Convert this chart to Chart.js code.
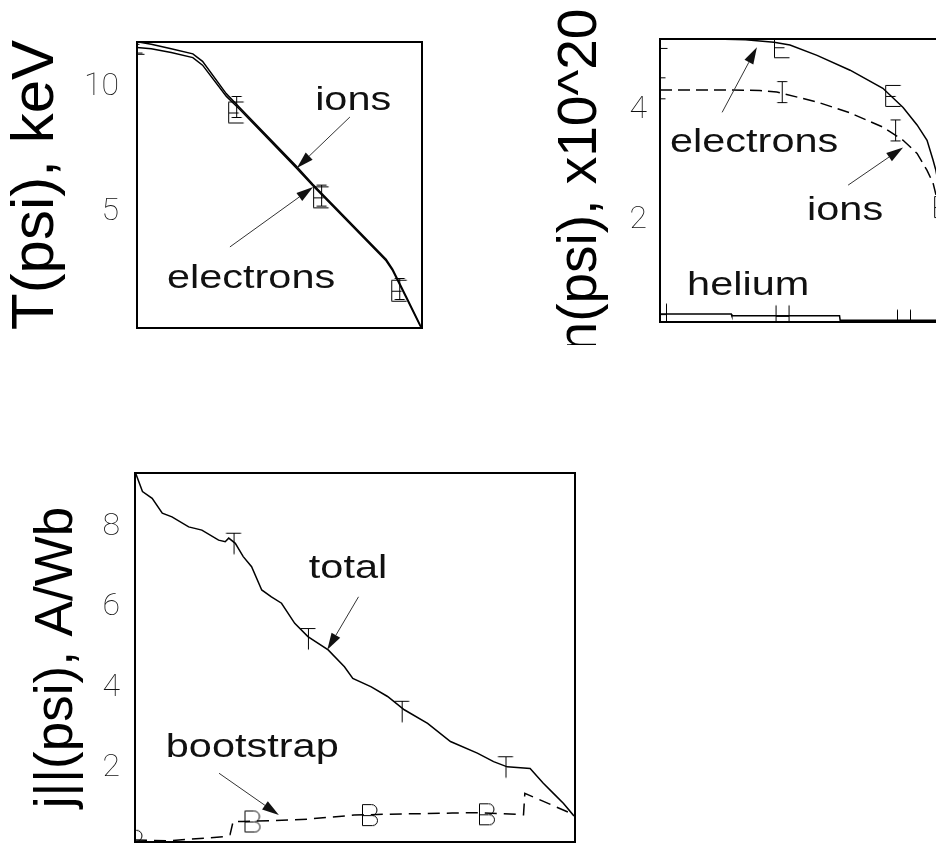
<!DOCTYPE html>
<html>
<head>
<meta charset="utf-8">
<script src="https://cdn.jsdelivr.net/npm/chart.js@4.4.0/dist/chart.umd.min.js"></script>
<style>
  html, body { margin: 0; padding: 0; background: #fff; overflow: hidden; width: 936px; height: 843px; }
  canvas { position: absolute; }
  #tChart { left: 0; top: 0; }
  #nChart { left: 548px; top: 0; }
  #jChart { left: 0; top: 460px; }
</style>
</head>
<body>
<canvas id="tChart" width="440" height="345"></canvas>
<canvas id="nChart" width="420" height="345"></canvas>
<canvas id="jChart" width="600" height="383"></canvas>
<script>
// ---- temperature, keV ----
const tPsi = [0, 0.05, 0.12, 0.196, 0.23, 0.313, 0.36, 0.558, 0.617, 0.874, 0.897, 0.944, 0.993, 1];
const tIons = [11.78, 11.68, 11.5, 11.3, 11.0, 9.72, 9.17, 6.85, 6.12, 3.14, 2.75, 1.68, 0.55, 0.4];
const tElectrons = [11.55, 11.5, 11.35, 11.15, 10.85, 9.62, 9.1, 6.78, 6.06, 3.08, 2.69, 1.62, 0.5, 0.38];
const tMarkPsi = [0, 0.348, 0.646, 0.92];
const tMarkElectrons = [11.7, 8.97, 5.6, 1.89];
const tMarkIons = [11.75, 9.19, 5.67, 1.96];
const tTicks = [5, 10];

// ---- density, 10^20 m^-3 ----
const nePsi = [0, 0.1, 0.19, 0.3, 0.4, 0.456, 0.551, 0.667, 0.782, 0.853, 0.902, 0.937, 0.958, 0.968, 0.99, 1];
const neVals = [5.36, 5.34, 5.3, 5.285, 5.24, 5.19, 5.0, 4.73, 4.4, 4.05, 3.73, 3.45, 3.09, 2.9, 2.3, 1.8];
const niPsi = [0, 0.2, 0.35, 0.41, 0.551, 0.667, 0.782, 0.853, 0.902, 0.937, 0.958, 0.99, 1];
const niVals = [4.37, 4.37, 4.36, 4.33, 4.15, 3.95, 3.69, 3.45, 3.21, 2.9, 2.67, 2.0, 1.6];
const nHePsi = [0, 0.25, 0.252, 0.63, 0.632, 1];
const nHeVals = [0.274, 0.274, 0.242, 0.242, 0.164, 0.164];
const neMarkPsi = [0, 0.428, 0.818, 0.99];
const neMarkVals = [5.32, 5.15, 4.26, 2.23];
const niMarkPsi = [0, 0.427, 0.825];
const niMarkVals = [4.4, 4.33, 3.63];
const heMarkPsi = [0, 0.43, 0.856];
const heMarkVals = [0.274, 0.242, 0.164];
const nTicks = [2, 4];

// ---- parallel current, A/Wb ----
const jTotalPsi = [0, 0.003, 0.017, 0.039, 0.062, 0.084, 0.122, 0.152, 0.19, 0.205, 0.213, 0.228, 0.246, 0.265, 0.288, 0.31, 0.333, 0.363, 0.393, 0.439, 0.476, 0.495, 0.537, 0.574, 0.612, 0.665, 0.717, 0.778, 0.815, 0.846, 0.898, 0.928, 0.951, 0.974, 0.996, 1];
const jTotal = [9.45, 9.29, 8.88, 8.71, 8.34, 8.25, 8.0, 7.92, 7.67, 7.63, 7.72, 7.59, 7.26, 7.01, 6.43, 6.26, 6.1, 5.6, 5.27, 4.94, 4.52, 4.23, 4.02, 3.78, 3.45, 3.11, 2.66, 2.37, 2.16, 2.03, 1.99, 1.62, 1.37, 1.12, 0.83, 0.8];
const jBootPsi = [0, 0.074, 0.2, 0.216, 0.223, 0.245, 0.312, 0.394, 0.498, 0.572, 0.721, 0.781, 0.883, 0.886, 1];
const jBoot = [0.21, 0.19, 0.29, 0.34, 0.67, 0.67, 0.69, 0.73, 0.83, 0.85, 0.88, 0.89, 0.84, 1.37, 0.83];
const jTotalMarkPsi = [0.224, 0.393, 0.606, 0.842];
const jTotalMarks = [7.58, 5.21, 3.4, 2.02];
const jBootMarkPsi = [0, 0.267, 0.534, 0.8];
const jBootMarks = [0.19, 0.67, 0.83, 0.85];
const jTicks = [2, 4, 6, 8];

Chart.defaults.font.family = "'Liberation Sans', Arial, sans-serif";
Chart.defaults.color = '#000';

// single-stroke letters used as point markers
function glyph(letter) {
  const w = 20, h = 24;
  const c = document.createElement('canvas');
  c.width = w; c.height = h;
  const g = c.getContext('2d');
  g.strokeStyle = '#000';
  g.lineWidth = 1;
  const L = 2.5, R = w - 2.5, T = 1.5, B = h - 1.5, M = h / 2 + 0.5, C = w / 2 + 0.5;
  g.beginPath();
  if (letter === 'E') {
    g.moveTo(R, T); g.lineTo(L, T); g.lineTo(L, B); g.lineTo(R, B);
    g.moveTo(L, M); g.lineTo(R - 5, M);
  } else if (letter === 'I') {
    g.moveTo(C, T); g.lineTo(C, B);
    g.moveTo(C - 5, T); g.lineTo(C + 5, T);
    g.moveTo(C - 5, B); g.lineTo(C + 5, B);
  } else if (letter === 'T') {
    g.moveTo(L, T); g.lineTo(R, T);
    g.moveTo(C, T); g.lineTo(C, B);
  } else if (letter === 'H') {
    g.moveTo(L + 1, T); g.lineTo(L + 1, B);
    g.moveTo(R - 1, T); g.lineTo(R - 1, B);
    g.moveTo(L + 1, M); g.lineTo(R - 1, M);
  } else if (letter === 'B') {
    const r1 = (M - T) / 2, r2 = (B - M) / 2;
    g.moveTo(L, T); g.lineTo(R - 6, T);
    g.arc(R - 6, T + r1, r1, -Math.PI / 2, Math.PI / 2);
    g.lineTo(L, M);
    g.moveTo(R - 5, M);
    g.arc(R - 5, M + r2, r2, -Math.PI / 2, Math.PI / 2);
    g.lineTo(L, B); g.lineTo(L, T);
  }
  g.stroke();
  return c;
}

function pts(xs, ys) {
  return xs.map((x, i) => ({ x: x, y: ys[i] }));
}

function curve(xs, ys, dash) {
  return {
    data: pts(xs, ys), showLine: true, pointRadius: 0, borderColor: '#000',
    borderWidth: 1.5, borderDash: dash || [], tension: 0, clip: 0
  };
}

function marks(xs, ys, letter) {
  return { data: pts(xs, ys), showLine: false, pointStyle: glyph(letter), pointRadius: 12, clip: 0 };
}

// frame, labels and arrows, placed in data units
const notes = {
  id: 'notes',
  afterDatasetsDraw(chart, args, opts) {
    const ctx = chart.ctx, a = chart.chartArea;
    const xs = chart.scales.x, ys = chart.scales.y;
    ctx.save();
    ctx.strokeStyle = '#000';
    ctx.lineWidth = 2;
    ctx.strokeRect(a.left, a.top, a.right - a.left, a.bottom - a.top);

    ctx.fillStyle = '#111';
    ctx.font = "34px 'Liberation Sans', Arial, sans-serif";
    ctx.textBaseline = 'alphabetic';
    ctx.textAlign = 'left';
    (opts.texts || []).forEach(t => {
      ctx.save();
      ctx.translate(xs.getPixelForValue(t.x), ys.getPixelForValue(t.y));
      ctx.scale(1.22, 1);
      ctx.fillText(t.text, 0, 0);
      ctx.restore();
    });

    ctx.strokeStyle = '#333';
    ctx.lineWidth = 1;
    (opts.arrows || []).forEach(ar => {
      const x0 = xs.getPixelForValue(ar.from[0]), y0 = ys.getPixelForValue(ar.from[1]);
      const x1 = xs.getPixelForValue(ar.to[0]), y1 = ys.getPixelForValue(ar.to[1]);
      const ang = Math.atan2(y1 - y0, x1 - x0);
      const len = 17, half = 5;
      ctx.beginPath();
      ctx.moveTo(x0, y0);
      ctx.lineTo(x1 - Math.cos(ang) * len, y1 - Math.sin(ang) * len);
      ctx.stroke();
      ctx.beginPath();
      ctx.moveTo(x1, y1);
      ctx.lineTo(x1 - Math.cos(ang) * len - Math.sin(ang) * half, y1 - Math.sin(ang) * len + Math.cos(ang) * half);
      ctx.lineTo(x1 - Math.cos(ang) * len + Math.sin(ang) * half, y1 - Math.sin(ang) * len - Math.cos(ang) * half);
      ctx.closePath();
      ctx.fill();
    });
    ctx.restore();
  }
};
Chart.register(notes);

function panelOptions(cfg) {
  return {
    responsive: false,
    animation: false,
    events: [],
    devicePixelRatio: 1,
    layout: { padding: cfg.pad, autoPadding: false },
    plugins: {
      legend: { display: false },
      tooltip: { enabled: false },
      notes: { texts: cfg.texts, arrows: cfg.arrows }
    },
    scales: {
      x: { type: 'linear', min: 0, max: 1, display: false },
      y: {
        type: 'linear', min: cfg.min, max: cfg.max,
        grid: { display: false, drawTicks: false },
        border: { display: false },
        // fixed axis width; tick labels must not push the plot area in
        afterFit: s => {
          s.width = cfg.axisWidth;
          s.paddingTop = 0;
          s.paddingBottom = 0;
        },
        afterBuildTicks: s => { s.ticks = cfg.ticks.map(v => ({ value: v })); },
        ticks: { padding: cfg.tickPad, color: '#111', font: { family: 'Roboto', weight: '100', size: 32 } },
        title: {
          display: true, text: cfg.title, color: '#000',
          font: { size: cfg.titleSize, lineHeight: 1.2 },
          padding: { top: cfg.titlePad, bottom: 0 }
        }
      }
    }
  };
}

new Chart(document.getElementById('tChart'), {
  type: 'scatter',
  data: {
    datasets: [
      curve(tPsi, tIons),
      curve(tPsi, tElectrons),
      marks(tMarkPsi, tMarkElectrons, 'E'),
      marks(tMarkPsi, tMarkIons, 'I')
    ]
  },
  options: panelOptions({
    min: 0.41, max: 11.77, ticks: tTicks,
    pad: { top: 42, right: 18, bottom: 17, left: 0 },
    axisWidth: 137, tickPad: 18,
    title: 'T(psi), keV', titleSize: 60, titlePad: 0,
    texts: [
      { text: 'ions', x: 0.625, y: 9.07 },
      { text: 'electrons', x: 0.105, y: 2.0 }
    ],
    arrows: [
      { from: [0.747, 8.79], to: [0.561, 6.77] },
      { from: [0.326, 3.63], to: [0.618, 6.01] }
    ]
  })
});

new Chart(document.getElementById('nChart'), {
  type: 'scatter',
  data: {
    datasets: [
      curve(nePsi, neVals),
      curve(niPsi, niVals, [12, 6]),
      curve(nHePsi, nHeVals),
      marks(neMarkPsi, neMarkVals, 'E'),
      marks(niMarkPsi, niMarkVals, 'I'),
      marks(heMarkPsi, heMarkVals, 'H')
    ]
  },
  options: panelOptions({
    min: 0.13, max: 5.3, ticks: nTicks,
    pad: { top: 39, right: 23, bottom: 23, left: 0 },
    axisWidth: 112, tickPad: 13,
    title: 'n(psi), x10^20', titleSize: 55, titlePad: 0,
    texts: [
      { text: 'electrons', x: 0.035, y: 3.23 },
      { text: 'ions', x: 0.516, y: 1.99 },
      { text: 'helium', x: 0.095, y: 0.62 }
    ],
    arrows: [
      { from: [0.218, 3.96], to: [0.34, 5.15] },
      { from: [0.66, 2.63], to: [0.853, 3.32] }
    ]
  })
});

new Chart(document.getElementById('jChart'), {
  type: 'scatter',
  data: {
    datasets: [
      curve(jTotalPsi, jTotal),
      curve(jBootPsi, jBoot, [12, 7]),
      marks(jTotalMarkPsi, jTotalMarks, 'T'),
      marks(jBootMarkPsi, jBootMarks, 'B')
    ]
  },
  options: panelOptions({
    min: 0.16, max: 9.34, ticks: jTicks,
    pad: { top: 13, right: 25, bottom: 1, left: 0 },
    axisWidth: 135, tickPad: 15,
    title: 'j||(psi), A/Wb', titleSize: 53, titlePad: 26,
    texts: [
      { text: 'total', x: 0.395, y: 6.73 },
      { text: 'bootstrap', x: 0.07, y: 2.28 }
    ],
    arrows: [
      { from: [0.508, 6.26], to: [0.437, 4.94] },
      { from: [0.191, 1.87], to: [0.327, 0.83] }
    ]
  })
});
</script>
</body>
</html>
